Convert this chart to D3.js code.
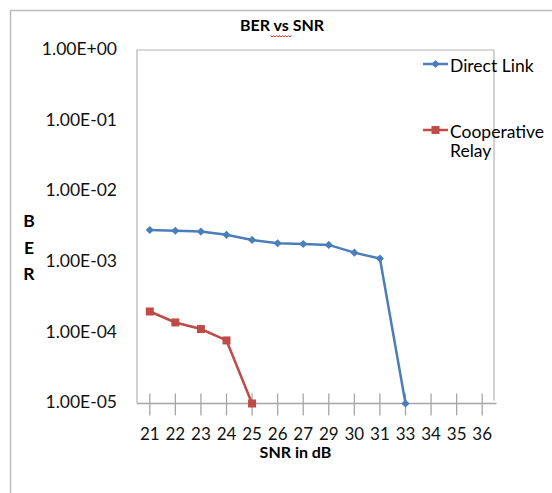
<!DOCTYPE html>
<html>
<head>
<meta charset="utf-8">
<script src="https://cdn.jsdelivr.net/npm/d3@7"></script>
<style>
  body { margin: 0; background: #fff; }
  svg { display: block; font-family: Lato, "Open Sans", sans-serif; }
</style>
</head>
<body>
<svg id="chart" width="552" height="493"></svg>
<script>
// chart data
var snrLabels = ["21", "22", "23", "24", "25", "26", "27", "29", "30", "31", "33", "34", "35", "36"];
var directLink = [2.85e-3, 2.78e-3, 2.7e-3, 2.43e-3, 2.06e-3, 1.85e-3, 1.8e-3, 1.75e-3, 1.36e-3, 1.12e-3, 1e-5];
var coopRelay = [2.0e-4, 1.4e-4, 1.13e-4, 7.8e-5, 1e-5];
var berTicks = [1, 1e-1, 1e-2, 1e-3, 1e-4, 1e-5];
var seriesNames = ["Direct Link", "Cooperative Relay"];

var svg = d3.select("#chart");
var pLeft = 137, pRight = 495, pTop = 50, pBottom = 403.5;

// outer chart frame (only left and top edges are in view)
svg.append("path")
    .attr("d", "M10.5,493V10.5H552")
    .attr("fill", "none")
    .attr("stroke", "#bcbcbc")
    .attr("stroke-width", 1.5);

var x = d3.scaleBand().domain(snrLabels).range([pLeft, pRight]);
var y = d3.scaleLog().domain([1e-5, 1]).range([pBottom, pTop]);
var cx = function (i) { return x(snrLabels[i]) + x.bandwidth() / 2; };

// plot area box
svg.append("path")
    .attr("d", "M" + pLeft + "," + pBottom + "V" + pTop + "H" + (pRight - 1) + "V" + (pBottom - 3))
    .attr("fill", "none")
    .attr("stroke", "#b4b4b4")
    .attr("stroke-width", 1.2);

// title
svg.append("text")
    .attr("x", 282).attr("y", 31)
    .attr("text-anchor", "middle")
    .style("font-weight", "bold").style("font-size", "16px")
    .text("BER vs SNR");
// spell-check squiggle under "vs"
var sq = "M270.5,35.5";
for (var k = 0; k < 7; k++) sq += "l1.5,1.5l1.5,-1.5";
svg.append("path").attr("d", sq).attr("fill", "none").attr("stroke", "#ff3030").attr("stroke-width", 1);

// y axis labels
var fmt = function (v) {
    var e = Math.round(Math.log10(v));
    return "1.00E" + (e < 0 ? "-" : "+") + String(Math.abs(e)).padStart(2, "0");
};
svg.append("g").selectAll("text")
    .data(berTicks).enter().append("text")
    .attr("x", 117).attr("y", function (d) { return y(d) - 1.5; })
    .attr("dy", "0.36em")
    .attr("text-anchor", "end")
    .style("font-size", "17.5px").style("fill", "#111")
    .text(fmt);

// x axis
var xAxis = svg.append("g")
    .attr("transform", "translate(0," + pBottom + ")")
    .call(d3.axisBottom(x).tickSizeOuter(0));
xAxis.select(".domain").attr("stroke", "#a6a6a6").attr("stroke-width", 1.5)
    .attr("d", "M" + pLeft + ",0H" + (pRight + 1.5));
xAxis.selectAll(".tick line").attr("stroke", "#a6a6a6").attr("stroke-width", 1.3)
    .attr("y1", -10).attr("y2", 12);
xAxis.selectAll(".tick text")
    .attr("y", 36.5).attr("dy", null)
    .style("font-family", "Lato, sans-serif").style("font-size", "17px").style("fill", "#111");

// axis titles
svg.append("text")
    .attr("x", 295.5).attr("y", 458)
    .attr("text-anchor", "middle")
    .style("font-weight", "bold").style("font-size", "16px")
    .text("SNR in dB");
svg.append("g").selectAll("text")
    .data(["B", "E", "R"]).enter().append("text")
    .attr("x", 29).attr("y", function (d, i) { return 227 + i * 26.5; })
    .attr("text-anchor", "middle")
    .style("font-weight", "bold").style("font-size", "17.5px")
    .text(function (d) { return d; });

// series
var line = d3.line().x(function (d, i) { return cx(i); }).y(function (d) { return y(d); });
var blue = "#4a7ebb", red = "#be4b48";

svg.append("path").datum(directLink)
    .attr("d", line).attr("fill", "none").attr("stroke", blue).attr("stroke-width", 2.5);
svg.append("g").selectAll("path")
    .data(directLink).enter().append("path")
    .attr("d", d3.symbol().type(d3.symbolDiamond2).size(42))
    .attr("transform", function (d, i) { return "translate(" + cx(i) + "," + y(d) + ")"; })
    .attr("fill", blue);

svg.append("path").datum(coopRelay)
    .attr("d", line).attr("fill", "none").attr("stroke", red).attr("stroke-width", 2.5);
svg.append("g").selectAll("rect")
    .data(coopRelay).enter().append("rect")
    .attr("x", function (d, i) { return cx(i) - 4; })
    .attr("y", function (d) { return y(d) - 4; })
    .attr("width", 8).attr("height", 8)
    .attr("fill", red);

// legend
var lg = svg.append("g");
lg.append("line").attr("x1", 423).attr("x2", 448).attr("y1", 64).attr("y2", 64)
    .attr("stroke", blue).attr("stroke-width", 2.5);
lg.append("path").attr("d", d3.symbol().type(d3.symbolDiamond2).size(42))
    .attr("transform", "translate(435.5,64)").attr("fill", blue);
lg.append("text").attr("x", 450).attr("y", 71.5)
    .style("font-size", "17.5px").text(seriesNames[0]);

lg.append("line").attr("x1", 423).attr("x2", 448).attr("y1", 130).attr("y2", 130)
    .attr("stroke", red).attr("stroke-width", 2.5);
lg.append("rect").attr("x", 431.5).attr("y", 126).attr("width", 8).attr("height", 8).attr("fill", red);
var words = seriesNames[1].split(" ");
lg.selectAll("text.c").data(words).enter().append("text")
    .attr("x", 450).attr("y", function (d, i) { return 137.5 + i * 19.5; })
    .style("font-size", "17.5px").text(function (d) { return d; });
</script>
</body>
</html>
